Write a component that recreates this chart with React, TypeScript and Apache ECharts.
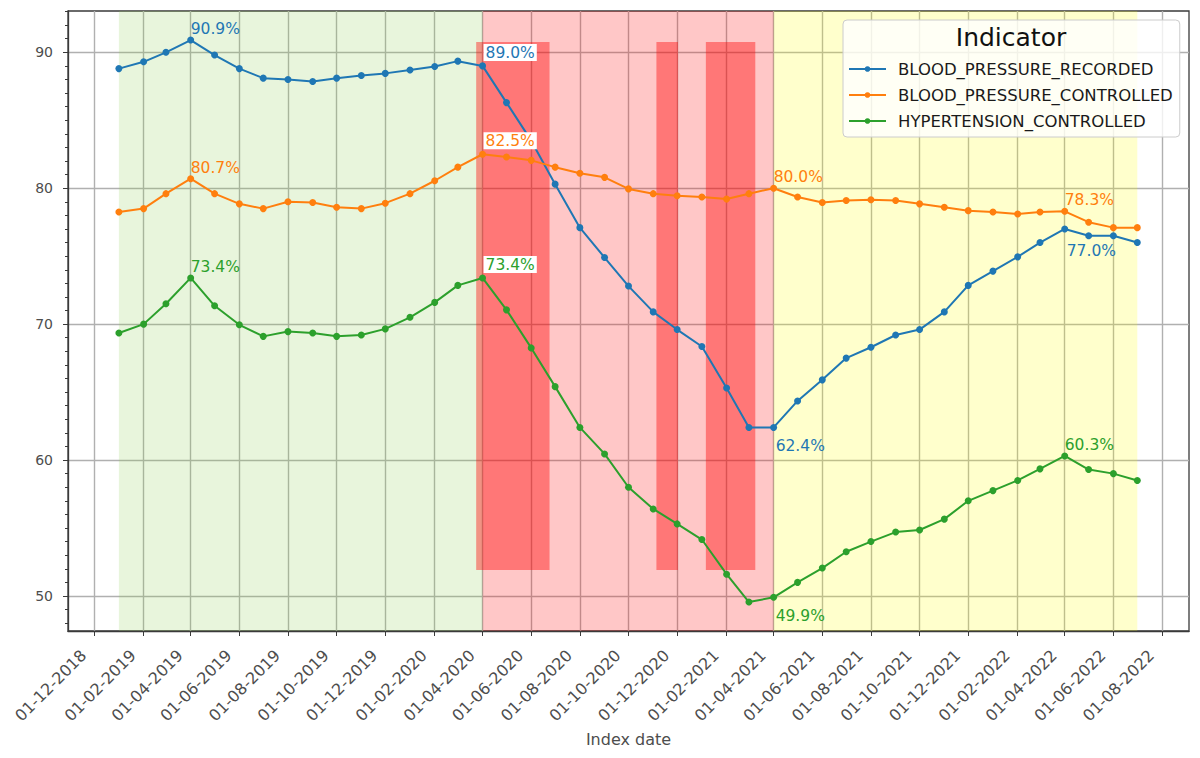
import React, { useEffect, useRef } from "react";
import * as echarts from "echarts";

// ---------- data ----------
const SERIES_NAMES = [
  "BLOOD_PRESSURE_RECORDED",
  "BLOOD_PRESSURE_CONTROLLED",
  "HYPERTENSION_CONTROLLED",
];

const DATES = [
  "01-01-2019", "01-02-2019", "01-03-2019", "01-04-2019", "01-05-2019", "01-06-2019",
  "01-07-2019", "01-08-2019", "01-09-2019", "01-10-2019", "01-11-2019", "01-12-2019",
  "01-01-2020", "01-02-2020", "01-03-2020", "01-04-2020", "01-05-2020", "01-06-2020",
  "01-07-2020", "01-08-2020", "01-09-2020", "01-10-2020", "01-11-2020", "01-12-2020",
  "01-01-2021", "01-02-2021", "01-03-2021", "01-04-2021", "01-05-2021", "01-06-2021",
  "01-07-2021", "01-08-2021", "01-09-2021", "01-10-2021", "01-11-2021", "01-12-2021",
  "01-01-2022", "01-02-2022", "01-03-2022", "01-04-2022", "01-05-2022", "01-06-2022",
  "01-07-2022",
];

const BP_RECORDED = [
  88.8, 89.3, 90.0, 90.9, 89.8, 88.8, 88.1, 88.0, 87.85, 88.1, 88.3, 88.45,
  88.7, 88.95, 89.35, 89.0, 86.3, 83.5, 80.3, 77.1, 74.9, 72.8, 70.9, 69.6,
  68.35, 65.3, 62.4, 62.4, 64.35, 65.9, 67.5, 68.3, 69.2, 69.6, 70.9, 72.85,
  73.9, 74.95, 76.0, 77.0, 76.5, 76.5, 76.0,
];

const BP_CONTROLLED = [
  78.25, 78.5, 79.6, 80.7, 79.6, 78.85, 78.5, 79.0, 78.95, 78.6, 78.5, 78.9,
  79.6, 80.55, 81.55, 82.5, 82.3, 82.05, 81.55, 81.1, 80.8, 79.95, 79.6, 79.45,
  79.35, 79.2, 79.6, 80.0, 79.35, 78.95, 79.1, 79.15, 79.1, 78.85, 78.6, 78.35,
  78.25, 78.1, 78.25, 78.3, 77.5, 77.1, 77.1,
];

const HT_CONTROLLED = [
  69.35, 70.0, 71.5, 73.4, 71.35, 69.95, 69.1, 69.45, 69.35, 69.1, 69.2, 69.65,
  70.5, 71.6, 72.85, 73.4, 71.05, 68.25, 65.4, 62.4, 60.45, 58.0, 56.4, 55.3,
  54.15, 51.6, 49.55, 49.9, 51.0, 52.05, 53.25, 54.0, 54.7, 54.85, 55.65, 57.0,
  57.75, 58.5, 59.35, 60.3, 59.3, 59.0, 58.5,
];

const X_TICKS = [
  "01-12-2018", "01-02-2019", "01-04-2019", "01-06-2019", "01-08-2019", "01-10-2019",
  "01-12-2019", "01-02-2020", "01-04-2020", "01-06-2020", "01-08-2020", "01-10-2020",
  "01-12-2020", "01-02-2021", "01-04-2021", "01-06-2021", "01-08-2021", "01-10-2021",
  "01-12-2021", "01-02-2022", "01-04-2022", "01-06-2022", "01-08-2022",
];

const Y_TICKS = [50, 60, 70, 80, 90];
const Y_MINOR_TICKS = [
  48, 49, 51, 52, 53, 54, 55, 56, 57, 58, 59, 61, 62, 63, 64, 65, 66, 67, 68, 69,
  71, 72, 73, 74, 75, 76, 77, 78, 79, 81, 82, 83, 84, 85, 86, 87, 88, 89, 91, 92, 93,
];

// background periods: [start, end]
const PERIODS = [
  ["01-01-2019", "01-04-2020"],
  ["01-04-2020", "01-04-2021"],
  ["01-04-2021", "01-07-2022"],
];
// lockdown boxes: [start, end]
const LOCKDOWNS = [
  ["24-03-2020", "24-06-2020"],
  ["05-11-2020", "02-12-2020"],
  ["06-01-2021", "09-03-2021"],
];
const LOCKDOWN_Y = [51.9, 90.75];

// annotated points: [seriesIndex, date, placement, boxed]
const ANNOTATIONS: [number, string, string, boolean][] = [
  [0, "01-04-2019", "above", false],
  [0, "01-04-2020", "above", true],
  [0, "01-04-2021", "below", false],
  [0, "01-04-2022", "below", false],
  [1, "01-04-2019", "above", false],
  [1, "01-04-2020", "above", true],
  [1, "01-04-2021", "above", false],
  [1, "01-04-2022", "above", false],
  [2, "01-04-2019", "above", false],
  [2, "01-04-2020", "above", true],
  [2, "01-04-2021", "below", false],
  [2, "01-04-2022", "above", false],
];

// ---------- helpers ----------
const ts = (s: string) => {
  const [d, m, y] = s.split("-").map(Number);
  return Date.UTC(y, m - 1, d);
};
const pad2 = (n: number) => (n < 10 ? "0" + n : "" + n);
const fmtDate = (v: number) => {
  const d = new Date(v);
  return `${pad2(d.getUTCDate())}-${pad2(d.getUTCMonth() + 1)}-${d.getUTCFullYear()}`;
};

const COLORS = ["#1f77b4", "#ff7f0e", "#2ca02c"];
const PERIOD_COLORS = [
  "rgba(140,205,80,0.2)",
  "rgba(255,0,0,0.22)",
  "rgba(255,255,0,0.2)",
];
const LOCKDOWN_COLOR = "rgba(255,0,0,0.4)";
const FONT = "DejaVu Sans";
const SPINE = "#3a3a3a";
const TICK_TEXT = "#4d4d4d";

const X_MIN = Date.UTC(2018, 9, 29, 4);
const X_MAX = Date.UTC(2022, 8, 3, 20);
const Y_MIN = 47.42;
const Y_MAX = 93.04;
const SYM = 7;

export default function App() {
  const ref = useRef<HTMLDivElement>(null);

  useEffect(() => {
    if (!ref.current) return;
    const chart = echarts.init(ref.current, undefined, { renderer: "svg" });

    const allValues = [BP_RECORDED, BP_CONTROLLED, HT_CONTROLLED];

    const lineSeries = SERIES_NAMES.map((name, si) => {
      const values = allValues[si];
      const data = DATES.map((d, i) => {
        const ann = ANNOTATIONS.find((a) => a[0] === si && a[1] === d);
        const item: any = { value: [ts(d), values[i]] };
        if (ann) {
          const above = ann[2] === "above";
          const boxed = ann[3];
          const belowDy = si === 0 && d === "01-04-2022" ? 14 : 11;
          item.label = {
            show: true,
            formatter: values[i].toFixed(1) + "%",
            position: above
              ? [SYM / 2 + (boxed ? 1 : 0), SYM / 2 - (boxed ? 5 : 3)]
              : [SYM / 2 + 2, SYM / 2 + belowDy],
            align: "left",
            verticalAlign: above ? "bottom" : "top",
            fontSize: 15.5,
            fontFamily: FONT,
            color: COLORS[si],
            backgroundColor: boxed ? "#ffffff" : "transparent",
            padding: boxed ? [1, 2, 0, 2] : 0,
          };
        }
        return item;
      });
      return {
        name,
        type: "line",
        data,
        xAxisIndex: 0,
        yAxisIndex: 0,
        symbol: "circle",
        symbolSize: SYM,
        showSymbol: true,
        z: 3,
        color: COLORS[si],
        lineStyle: { width: 2, color: COLORS[si] },
        itemStyle: { color: COLORS[si], borderWidth: 0 },
        emphasis: { disabled: true },
        label: { show: false },
      };
    });

    const areaData: any[] = [];
    PERIODS.forEach((p, i) => {
      areaData.push([
        { xAxis: ts(p[0]), itemStyle: { color: PERIOD_COLORS[i] } },
        { xAxis: ts(p[1]) },
      ]);
    });
    LOCKDOWNS.forEach((p) => {
      areaData.push([
        { xAxis: ts(p[0]), yAxis: LOCKDOWN_Y[0], itemStyle: { color: LOCKDOWN_COLOR } },
        { xAxis: ts(p[1]), yAxis: LOCKDOWN_Y[1] },
      ]);
    });

    const areaSeries = {
      name: "_areas",
      type: "line",
      data: [],
      xAxisIndex: 0,
      yAxisIndex: 0,
      z: 1,
      silent: true,
      markArea: {
        silent: true,
        label: { show: false },
        emphasis: { disabled: true },
        data: areaData,
      },
    };

    const xTickValues = X_TICKS.map(ts);

    const option: any = {
      animation: false,
      textStyle: { fontFamily: FONT },
      grid: {
        left: 68,
        right: 11,
        top: 11,
        bottom: 127,
        show: true,
        borderColor: SPINE,
        borderWidth: 1.3,
        backgroundColor: "transparent",
        containLabel: false,
      },
      legend: {
        data: SERIES_NAMES,
        orient: "vertical",
        left: 843,
        top: 20,
        itemWidth: 37,
        itemHeight: 7,
        itemGap: 6,
        padding: [39, 7, 6, 5],
        backgroundColor: "rgba(255,255,255,0.8)",
        borderColor: "#cccccc",
        borderWidth: 1,
        borderRadius: 4,
        selectedMode: false,
        textStyle: {
          fontSize: 16.5,
          lineHeight: 20,
          color: "#1a1a1a",
          fontFamily: FONT,
          padding: [0, 0, 0, 7],
        },
        z: 50,
      },
      graphic: [
        {
          type: "text",
          x: 1011,
          y: 37,
          z: 100,
          style: {
            text: "Indicator",
            fontSize: 25,
            fontFamily: FONT,
            fill: "#111111",
            align: "center",
            verticalAlign: "middle",
          },
        },
      ],
      xAxis: {
        type: "value",
        min: X_MIN,
        max: X_MAX,
        axisLine: { show: true, onZero: false, lineStyle: { color: SPINE, width: 1.3 } },
        axisTick: {
          show: true,
          customValues: xTickValues,
          length: 5,
          lineStyle: { color: SPINE, width: 1 },
        },
        axisLabel: {
          customValues: xTickValues,
          formatter: (v: number) => fmtDate(v),
          rotate: 45,
          fontSize: 16,
          color: TICK_TEXT,
          fontFamily: FONT,
          margin: 11,
          padding: [0, 15, 0, 0],
          hideOverlap: false,
        },
        splitLine: { show: true, lineStyle: { color: "#b0b0b0", width: 1.4 } },
        name: "Index date",
        nameLocation: "middle",
        nameGap: 99,
        nameTextStyle: { fontSize: 16, color: TICK_TEXT, fontFamily: FONT },
      },
      yAxis: [
        {
          type: "value",
          min: Y_MIN,
          max: Y_MAX,
          position: "left",
          axisLine: { show: true, lineStyle: { color: SPINE, width: 1.3 } },
          axisTick: {
            show: true,
            customValues: Y_TICKS,
            length: 5,
            lineStyle: { color: SPINE, width: 1 },
          },
          axisLabel: {
            customValues: Y_TICKS,
            fontSize: 14,
            color: TICK_TEXT,
            fontFamily: FONT,
            margin: 15,
          },
          splitLine: { show: true, lineStyle: { color: "#b0b0b0", width: 1.4 } },
        },
        {
          type: "value",
          min: Y_MIN,
          max: Y_MAX,
          position: "left",
          offset: 0,
          axisLine: { show: false },
          axisLabel: { show: false },
          splitLine: { show: false },
          axisTick: {
            show: true,
            customValues: Y_MINOR_TICKS,
            length: 3,
            lineStyle: { color: SPINE, width: 1 },
          },
        },
      ],
      series: [areaSeries, ...lineSeries],
    };

    chart.setOption(option);
    return () => chart.dispose();
  }, []);

  return (
    <div
      ref={ref}
      style={{ position: "fixed", left: 0, top: 0, width: 1200, height: 758, background: "#ffffff" }}
    />
  );
}
